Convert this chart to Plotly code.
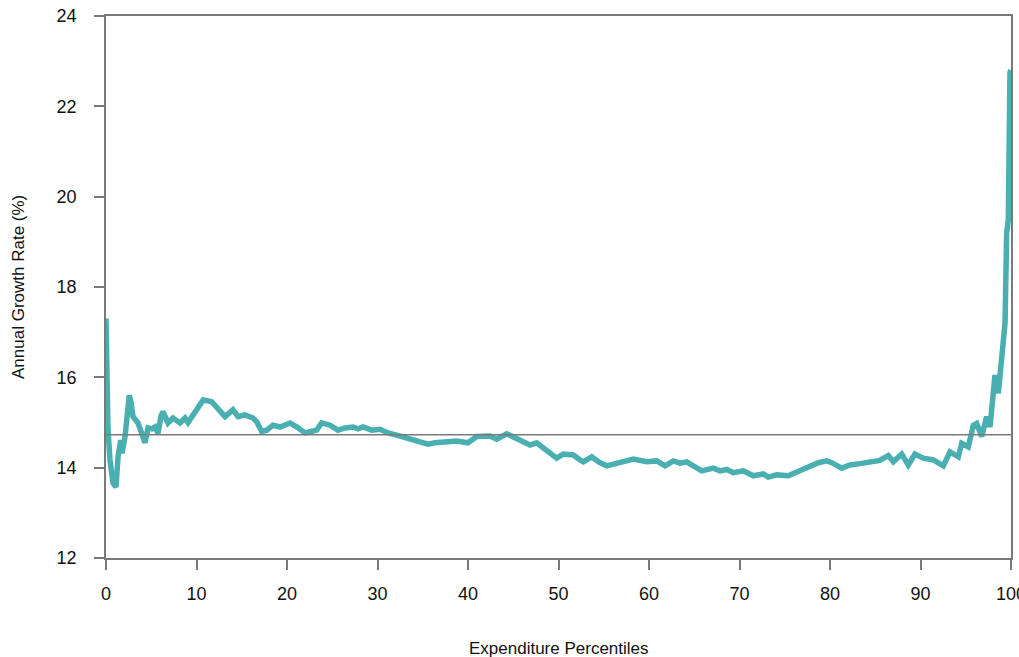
import plotly.graph_objects as go

# Growth incidence curve: annual growth rate by expenditure percentile
percentiles = [
    0.0, 0.22, 0.44, 0.77, 1.10, 1.33, 1.62, 1.77, 2.10, 2.35, 2.57, 2.76, 2.98,
    3.54, 3.87, 4.31, 4.64, 5.08, 5.41, 5.75, 6.08, 6.30, 6.85, 7.40, 8.18, 8.73,
    9.06, 9.50, 10.02, 10.39, 10.75, 11.68, 12.38, 13.15, 14.03, 14.59, 15.36,
    16.24, 16.65, 17.20, 17.76, 18.45, 19.23, 19.97, 20.33, 21.10, 21.99, 22.65,
    23.28, 23.83, 24.75, 25.64, 26.41, 27.29, 27.85, 28.40, 29.36, 30.28, 31.16,
    32.12, 33.23, 34.33, 35.58, 36.35, 37.24, 38.75, 40.00, 40.96, 42.43, 43.17,
    44.28, 44.97, 45.75, 46.85, 47.59, 48.70, 49.80, 50.53, 51.64, 52.38, 52.74,
    53.67, 54.48, 55.33, 56.80, 58.27, 59.75, 60.85, 61.77, 62.69, 63.43, 64.17,
    65.82, 67.11, 67.85, 68.59, 69.31, 70.42, 71.53, 72.63, 73.18, 74.11, 75.39,
    76.32, 77.43, 78.71, 79.64, 80.19, 81.30, 82.21, 83.31, 84.42, 85.52, 86.44,
    87.00, 87.92, 88.65, 89.39, 90.31, 91.42, 92.52, 93.26, 94.18, 94.55, 95.28,
    95.84, 96.21, 96.76, 97.31, 97.68, 98.23, 98.60, 98.97, 99.34, 99.52, 99.70,
    99.89, 100.0,
]
growth_rate = [
    17.3, 14.85, 14.17, 13.66, 13.57, 14.24, 14.61, 14.32, 14.69, 15.28, 15.6,
    15.45, 15.13, 14.99, 14.8, 14.55, 14.88, 14.86, 14.9, 14.76, 15.15, 15.24,
    14.99, 15.1, 14.99, 15.1, 15.0, 15.13, 15.28, 15.43, 15.5, 15.46, 15.32,
    15.13, 15.28, 15.13, 15.17, 15.1, 15.02, 14.8, 14.83, 14.94, 14.9, 14.94,
    14.99, 14.9, 14.77, 14.8, 14.83, 14.99, 14.94, 14.83, 14.88, 14.9, 14.86,
    14.9, 14.83, 14.85, 14.77, 14.72, 14.66, 14.61, 14.52, 14.55, 14.57, 14.59,
    14.55, 14.69, 14.7, 14.63, 14.75, 14.68, 14.63, 14.5, 14.55, 14.39, 14.21,
    14.3, 14.28, 14.17, 14.13, 14.24, 14.12, 14.04, 14.1, 14.19, 14.13, 14.15,
    14.04, 14.15, 14.1, 14.13, 13.93, 13.99, 13.93, 13.96, 13.89, 13.93, 13.82,
    13.86, 13.79, 13.84, 13.82, 13.9, 14.02, 14.11, 14.15, 14.11, 13.99, 14.06,
    14.09, 14.12, 14.16, 14.27, 14.13, 14.3, 14.06, 14.3, 14.21, 14.17, 14.04,
    14.35, 14.24, 14.54, 14.46, 14.94, 14.98, 14.69, 15.13, 14.9, 16.05, 15.65,
    16.55, 17.2, 19.2, 19.48, 22.75, 22.8,
]
mean_growth = 14.73

x_ticks = [0, 10, 20, 30, 40, 50, 60, 70, 80, 90, 100]
y_ticks = [12, 14, 16, 18, 20, 22, 24]

axis_grey = "#7a7a7a"
font_family = "Liberation Sans, Arial, sans-serif"

fig = go.Figure()
fig.add_trace(go.Scatter(
    x=percentiles, y=growth_rate, mode="lines",
    line=dict(color="#49AFB1", width=5.5),
    showlegend=False, hoverinfo="x+y",
))
fig.add_trace(go.Scatter(
    x=[0, 100], y=[mean_growth, mean_growth], mode="lines",
    line=dict(color=axis_grey, width=1.5),
    showlegend=False, hoverinfo="y",
))

fig.update_layout(
    width=1019, height=657,
    margin=dict(l=106, r=8, t=16, b=99),
    paper_bgcolor="white", plot_bgcolor="white",
    font=dict(family=font_family, size=18, color="#111111"),
    xaxis=dict(
        range=[0, 100], tickvals=x_ticks, ticktext=[str(v) for v in x_ticks],
        showgrid=False, zeroline=False, automargin=False,
        showline=True, mirror=True, linecolor=axis_grey, linewidth=1.5,
        ticks="outside", ticklen=10, tickwidth=1.5, tickcolor=axis_grey,
        ticklabelstandoff=9, ticklabeloverflow="allow",
    ),
    yaxis=dict(
        range=[12, 24], tickvals=y_ticks, ticktext=[str(v) for v in y_ticks],
        showgrid=False, zeroline=False, automargin=False,
        showline=True, mirror=True, linecolor=axis_grey, linewidth=1.5,
        ticks="outside", ticklen=10, tickwidth=1.5, tickcolor=axis_grey,
        ticklabelstandoff=14,
    ),
    annotations=[
        dict(text="Expenditure Percentiles", xref="paper", yref="paper",
             x=0.5, y=0, yshift=-90, showarrow=False, font=dict(size=17),
             xanchor="center", yanchor="middle"),
        dict(text="Annual Growth Rate (%)", xref="paper", yref="paper",
             x=0, y=0.5, xshift=-88, showarrow=False, font=dict(size=17),
             textangle=-90, xanchor="center", yanchor="middle"),
    ],
)

fig.write_html("out.html")
